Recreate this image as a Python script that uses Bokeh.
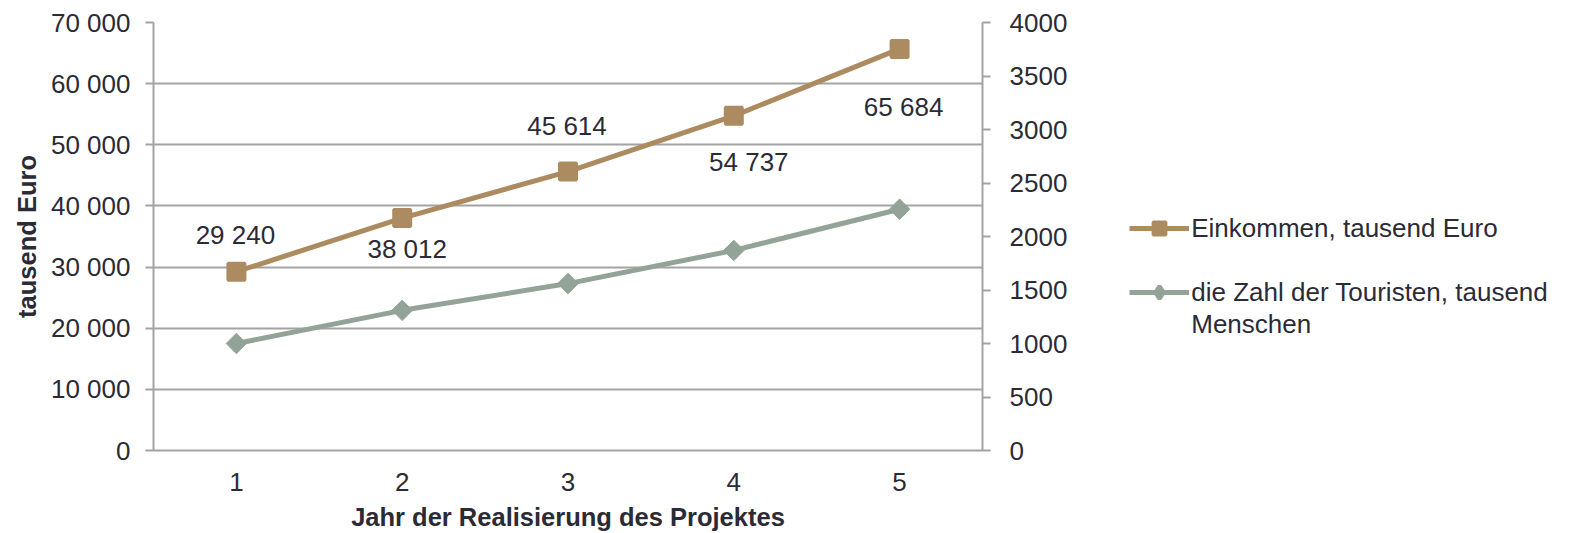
import math
from bokeh.plotting import figure
from bokeh.models import (Range1d, LinearAxis, FixedTicker, Legend, LegendItem,
                          ColumnDataSource)
from bokeh.embed import file_html
from bokeh.resources import INLINE
from bokeh.core.properties import value

# ---------------- data ----------------
years = [1, 2, 3, 4, 5]
year_labels = ["1", "2", "3", "4", "5"]
income = [29240, 38012, 45614, 54737, 65684]
income_labels = ["29 240", "38 012", "45 614", "54 737", "65 684"]
tourists = [1000, 1310, 1560, 1870, 2255]
left_ticks = [0, 10000, 20000, 30000, 40000, 50000, 60000, 70000]
left_tick_labels = ["0", "10 000", "20 000", "30 000", "40 000", "50 000", "60 000", "70 000"]
right_ticks = [0, 500, 1000, 1500, 2000, 2500, 3000, 3500, 4000]
right_tick_labels = ["0", "500", "1000", "1500", "2000", "2500", "3000", "3500", "4000"]
series_names = ["Einkommen, tausend Euro", "die Zahl der Touristen, tausend", "Menschen"]
x_title = "Jahr der Realisierung des Projektes"
y_title = "tausend Euro"

# ---------------- style ----------------
FONT = "Liberation Sans"
TEXT = "#2b2b36"
GRID = "#a3a3a3"
C_INC = "#ad8b61"
C_TOU = "#93a397"
FS = "26px"
FS_B = "25.5px"
label_dx = [-1, 5, -1, 15, 4]
label_dy = [-37, 31, -46, 46, 58]

p = figure(frame_width=829, frame_height=428,
           x_range=Range1d(0.5, 5.5), y_range=Range1d(0, 70000),
           output_backend="svg", toolbar_location=None,
           min_border_left=153, min_border_top=22, min_border_bottom=0,
           min_border_right=0)
p.outline_line_color = None
p.background_fill_color = "white"
p.border_fill_color = "white"
p.extra_y_ranges = {"tour": Range1d(0, 4000)}

p.xgrid.visible = False
p.ygrid.ticker = FixedTicker(ticks=left_ticks)
p.ygrid.grid_line_color = GRID
p.ygrid.grid_line_width = 2

# left axis
ya = p.yaxis[0]
ya.ticker = FixedTicker(ticks=left_ticks)
ya.major_label_overrides = dict(zip(left_ticks, left_tick_labels))
ya.axis_label = y_title
ya.axis_label_text_font = FONT
ya.axis_label_text_font_style = "bold"
ya.axis_label_text_font_size = FS_B
ya.axis_label_text_color = TEXT
ya.axis_label_standoff = 7
ya.major_label_text_font = FONT
ya.major_label_text_font_size = FS
ya.major_label_text_color = TEXT
ya.major_label_standoff = 15
ya.major_tick_out = 8
ya.major_tick_in = 0
ya.minor_tick_out = 0
ya.minor_tick_in = 0
ya.axis_line_color = GRID
ya.axis_line_width = 2
ya.major_tick_line_color = GRID
ya.major_tick_line_width = 2

# bottom axis
xa = p.xaxis[0]
xa.ticker = FixedTicker(ticks=years)
xa.major_label_overrides = dict(zip(years, year_labels))
xa.axis_label = x_title
xa.axis_label_text_font = FONT
xa.axis_label_text_font_style = "bold"
xa.axis_label_text_font_size = FS_B
xa.axis_label_text_color = TEXT
xa.axis_label_standoff = 9
xa.major_label_text_font = FONT
xa.major_label_text_font_size = FS
xa.major_label_text_color = TEXT
xa.major_label_standoff = 22
xa.major_tick_out = 0
xa.major_tick_in = 0
xa.minor_tick_out = 0
xa.minor_tick_in = 0
xa.axis_line_color = GRID
xa.axis_line_width = 2

# right axis
ra = LinearAxis(y_range_name="tour", ticker=FixedTicker(ticks=right_ticks))
ra.major_label_overrides = dict(zip(right_ticks, right_tick_labels))
ra.major_label_text_font = FONT
ra.major_label_text_font_size = FS
ra.major_label_text_color = TEXT
ra.major_label_standoff = 19
ra.major_tick_out = 8
ra.major_tick_in = 0
ra.minor_tick_out = 0
ra.minor_tick_in = 0
ra.axis_line_color = GRID
ra.axis_line_width = 2
ra.major_tick_line_color = GRID
ra.major_tick_line_width = 2
p.add_layout(ra, "right")

# series
r1 = p.line(years, income, line_color=C_INC, line_width=5)
r2 = p.scatter(years, income, marker="square", size=17, line_width=3,
               fill_color=C_INC, line_color=C_INC)
r3 = p.line(years, tourists, y_range_name="tour", line_color=C_TOU, line_width=5)
r4 = p.scatter(years, tourists, y_range_name="tour", marker="square", angle=math.pi / 4,
               size=14.5, fill_color=C_TOU, line_color=C_TOU)
# zero-size diamond on the same data (hidden under r4): provides the diamond legend key
r4_key = p.scatter(years, tourists, y_range_name="tour", marker="diamond", size=0,
                   line_width=4, fill_color=C_TOU, line_color=C_TOU)

# data labels
src = ColumnDataSource(dict(x=years, y=income, t=income_labels, dx=label_dx, dy=label_dy))
p.text(x="x", y="y", text="t", x_offset="dx", y_offset="dy", source=src,
       text_font=value(FONT), text_font_size=FS, text_color=TEXT,
       text_align="center", text_baseline="middle")

blank = p.line([], [], line_alpha=0)

legend = Legend(items=[LegendItem(label=series_names[0], renderers=[r1, r2]),
                       LegendItem(label=" ", renderers=[blank]),
                       LegendItem(label=series_names[1], renderers=[r3, r4_key]),
                       LegendItem(label=series_names[2], renderers=[blank])],
                location=(-161, 110))
legend.border_line_color = None
legend.background_fill_alpha = 0
legend.padding = 0
legend.margin = 0
legend.spacing = 0
legend.glyph_width = 60
legend.glyph_height = 32
legend.label_standoff = 2
legend.label_text_font = FONT
legend.label_text_font_size = FS
legend.label_text_color = TEXT
legend.label_height = 32
p.add_layout(legend, "right")

open("out.html", "w").write(file_html(p, INLINE))
